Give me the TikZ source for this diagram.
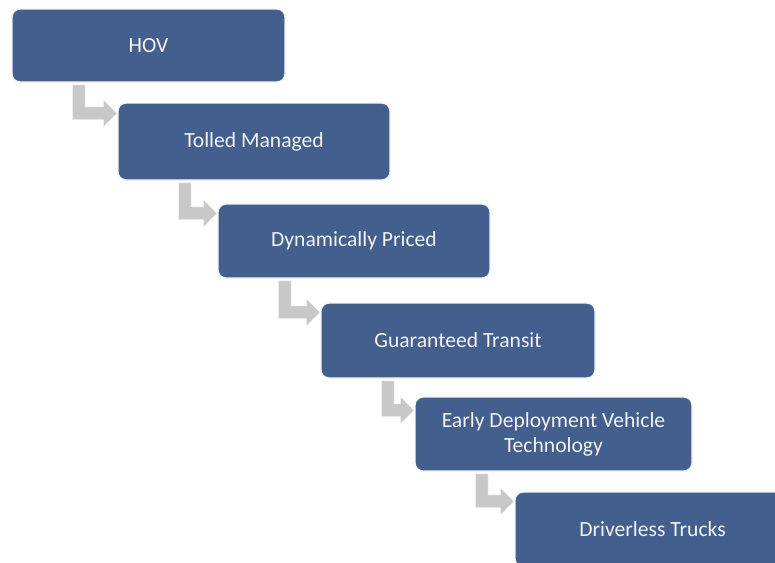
\documentclass[tikz,border=0pt]{standalone}
\usepackage{fontspec}
\setmainfont{Carlito}
\usetikzlibrary{calc}
\definecolor{boxblue}{HTML}{435F8D}
\definecolor{arrowgray}{HTML}{C8C8C8}
\definecolor{txtwhite}{HTML}{F2F2F2}
\tikzset{
  stepbox/.style={rectangle, rounded corners=8pt, fill=boxblue, draw=white!92!gray,
    line width=1.4pt, inner sep=0pt, text=txtwhite, align=center,
    font=\fontsize{21.6}{25}\selectfont},
  bentarrow/.style={fill=arrowgray, draw=white!95!gray, line width=0.8pt, line join=miter}
}
\newcommand{\flowarrow}[3]{%
  \path[bentarrow] let \p1=(#1.south west), \p2=(#2.north west) in
    (\x1+61pt,\y1-2pt) -- (\x1+74pt,\y1-2pt) -- (\x1+74pt,\y2-#3pt+6.5pt)
    -- (\x2-14pt,\y2-#3pt+6.5pt) -- (\x2-14pt,\y2-#3pt+14pt) -- (\x2,\y2-#3pt)
    -- (\x2-14pt,\y2-#3pt-14pt) -- (\x2-14pt,\y2-#3pt-6.5pt) -- (\x1+61pt,\y2-#3pt-6.5pt) -- cycle;}
\begin{document}
\begin{tikzpicture}[x=1pt,y=-1pt]
\useasboundingbox (0,0) rectangle (775,562);
\clip (0,0) rectangle (775,562);
\fill[white] (0,0) rectangle (775,562);
\node[stepbox, minimum width=273pt, minimum height=73pt] (hov) at (148.5,45.5) {HOV};
\node[stepbox, minimum width=272pt, minimum height=77pt] (tolled) at (254,141.5) {Tolled Managed};
\node[stepbox, minimum width=272pt, minimum height=74pt] (dyn) at (354,241) {Dynamically Priced};
\node[stepbox, minimum width=274pt, minimum height=75pt] (gt) at (458,340.5) {Guaranteed Transit};
\node[stepbox, minimum width=277pt, minimum height=74pt] (edv) at (553.5,434) {Early Deployment Vehicle\\Technology};
\node[stepbox, minimum width=275pt, minimum height=75pt] (dt) at (652.5,529.5) {Driverless Trucks};
\flowarrow{hov}{tolled}{11}
\flowarrow{tolled}{dyn}{10}
\flowarrow{dyn}{gt}{10}
\flowarrow{gt}{edv}{14}
\flowarrow{edv}{dt}{10}
\end{tikzpicture}
\end{document}
